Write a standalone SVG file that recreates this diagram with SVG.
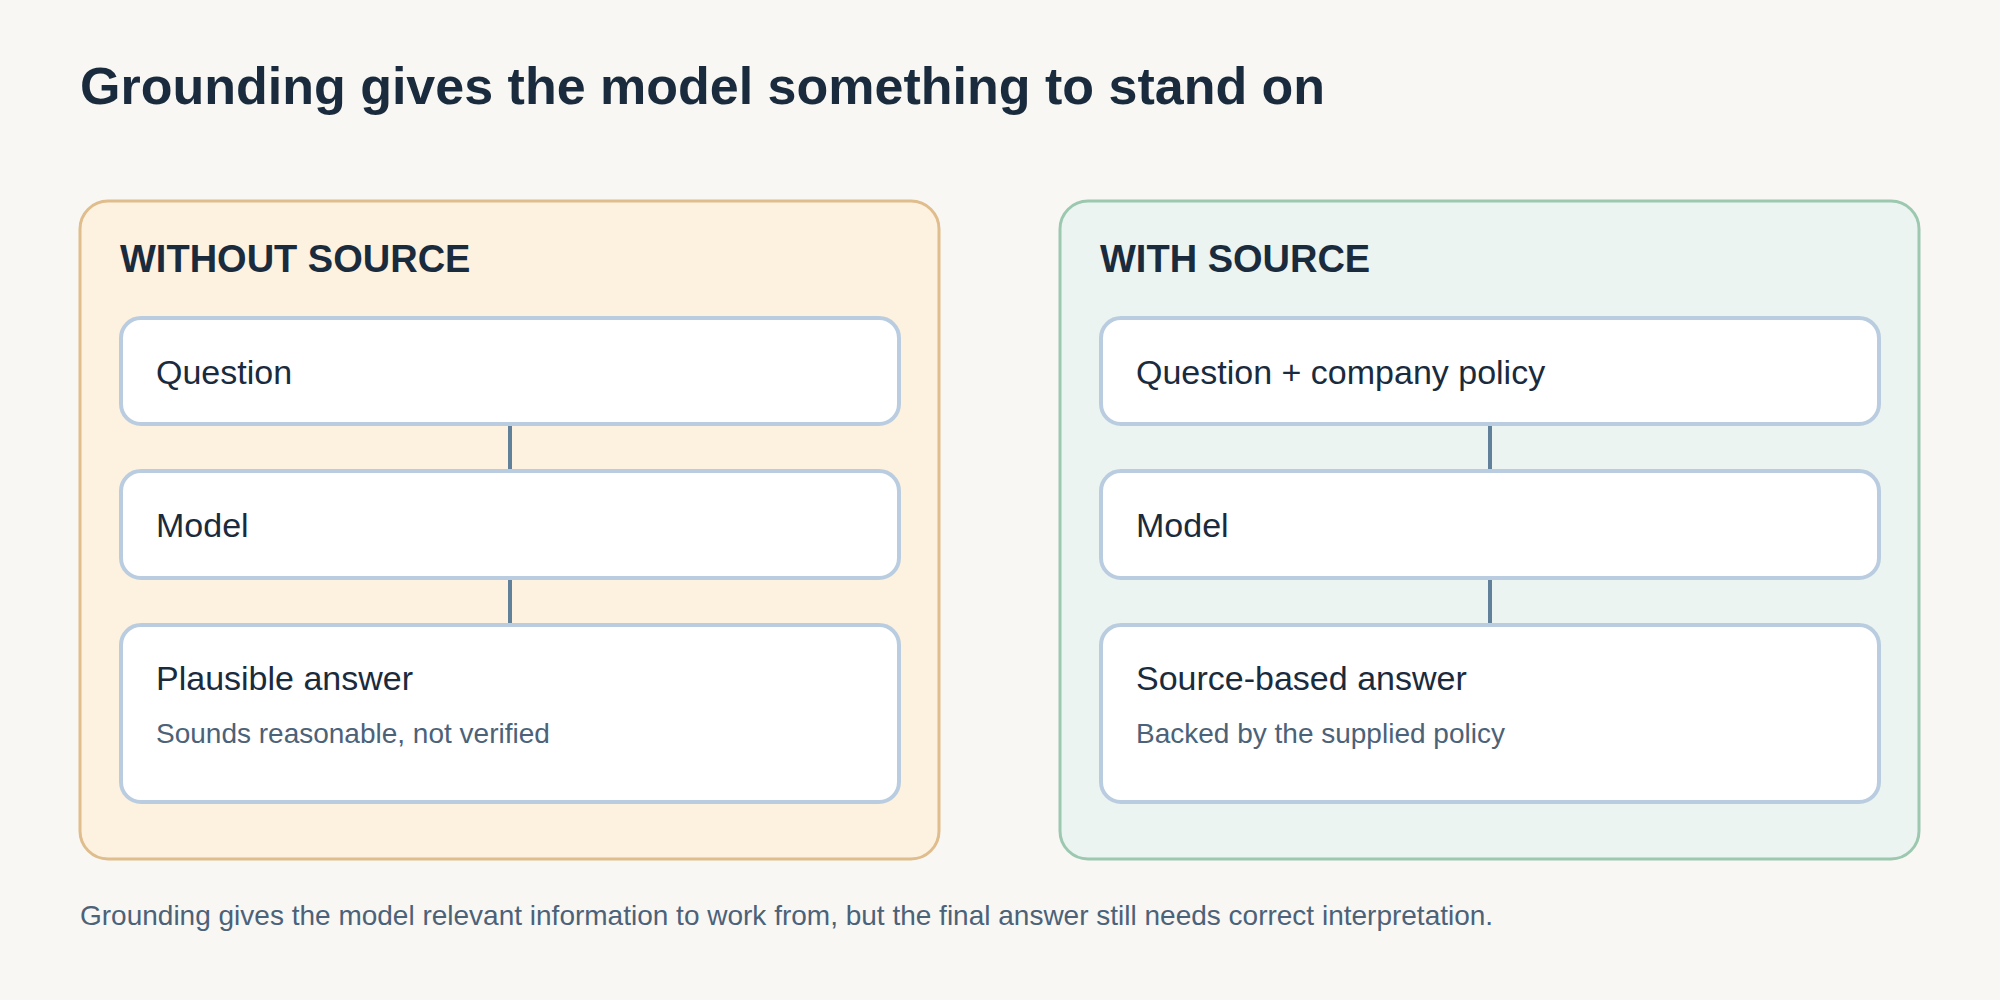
<svg xmlns="http://www.w3.org/2000/svg" width="2000" height="1000" viewBox="0 0 2000 1000">
<style>
text{font-family:"Liberation Sans",Arial,Helvetica,sans-serif;}
.title{font-size:52px;font-weight:700;fill:#1a2b3d;}
.head{font-size:38px;font-weight:700;fill:#1a2b3d;}
.lbl{font-size:34px;fill:#1a2b3d;}
.sub{font-size:28px;fill:#4b6279;}
.foot{font-size:28px;fill:#4b6279;}
.node{fill:#ffffff;stroke:#bacde0;stroke-width:4;}
.conn{stroke:#61809a;stroke-width:4;}
</style>
<rect x="0" y="0" width="2000" height="1000" fill="#f9f7f3"/>
<text class="title" x="80" y="104">Grounding gives the model something to stand on</text>

<g id="panel-without">
<rect x="80" y="201" width="859" height="658" rx="28" fill="#fdf1e0" stroke="#dfbd8c" stroke-width="3"/>
<text class="head" x="120" y="272">WITHOUT SOURCE</text>
</g>
<g id="panel-with">
<rect x="1060" y="201" width="859" height="658" rx="28" fill="#ebf4f0" stroke="#9cc8b0" stroke-width="3"/>
<text class="head" x="1100" y="272">WITH SOURCE</text>
</g>

<g id="connectors">
<line class="conn" x1="510" y1="424" x2="510" y2="471"/>
<line class="conn" x1="510" y1="578" x2="510" y2="625"/>
<line class="conn" x1="1490" y1="424" x2="1490" y2="471"/>
<line class="conn" x1="1490" y1="578" x2="1490" y2="625"/>
</g>

<g id="left-question">
<rect class="node" x="121" y="318" width="778" height="106" rx="20"/>
<text class="lbl" x="156" y="384">Question</text>
</g>
<g id="left-model">
<rect class="node" x="121" y="471" width="778" height="107" rx="20"/>
<text class="lbl" x="156" y="537">Model</text>
</g>
<g id="left-answer">
<rect class="node" x="121" y="625" width="778" height="177" rx="20"/>
<text class="lbl" x="156" y="690">Plausible answer</text>
<text class="sub" x="156" y="743">Sounds reasonable, not verified</text>
</g>

<g id="right-question">
<rect class="node" x="1101" y="318" width="778" height="106" rx="20"/>
<text class="lbl" x="1136" y="384">Question + company policy</text>
</g>
<g id="right-model">
<rect class="node" x="1101" y="471" width="778" height="107" rx="20"/>
<text class="lbl" x="1136" y="537">Model</text>
</g>
<g id="right-answer">
<rect class="node" x="1101" y="625" width="778" height="177" rx="20"/>
<text class="lbl" x="1136" y="690">Source-based answer</text>
<text class="sub" x="1136" y="743">Backed by the supplied policy</text>
</g>

<text class="foot" x="80" y="925">Grounding gives the model relevant information to work from, but the final answer still needs correct interpretation.</text>
</svg>
